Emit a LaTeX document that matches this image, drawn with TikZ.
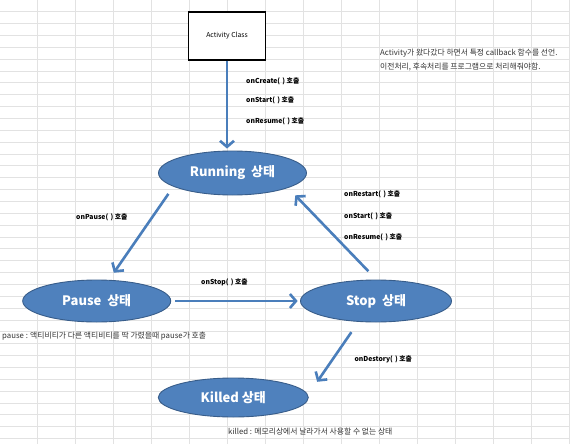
\documentclass[tikz,border=0pt]{standalone}
\usepackage{fontspec}
\setmainfont{Noto Sans CJK KR}
\usetikzlibrary{shapes.geometric,arrows.meta}
\definecolor{gridc}{HTML}{E2E2E2}
\definecolor{ellfill}{HTML}{4F81BD}
\definecolor{ellline}{HTML}{385D8A}
\definecolor{arrc}{HTML}{4A7EBB}
\tikzset{
  state/.style={ellipse, fill=ellfill, draw=ellline, line width=0.9pt, inner sep=0pt,
    text=white, font=\fontsize{13}{13}\selectfont\bfseries},
  classbox/.style={rectangle, draw=black, fill=white, line width=1.3pt, inner sep=0pt,
    minimum width=77pt, minimum height=48pt, font=\fontsize{6.8}{7}\selectfont},
  arr/.style={draw=arrc, line width=2.6pt, -{Straight Barb[length=6pt,width=14pt]}},
  lbl/.style={anchor=west, inner sep=0pt, font=\fontsize{6.8}{7}\selectfont\bfseries},
  note/.style={anchor=west, inner sep=0pt, font=\fontsize{7.8}{8}\selectfont, text=black!80},
}
\begin{document}
\begin{tikzpicture}[x=1pt,y=-1pt]
\useasboundingbox (0,0) rectangle (570,444);
\fill[white] (0,0) rectangle (570,444);
% spreadsheet grid
\foreach \i in {0,...,14} {
  \draw[gridc, line width=0.9pt] ({37.3+38*\i},0) -- ({37.3+38*\i},444);
}
\foreach \j in {0,...,36} {
  \draw[gridc, line width=0.9pt] (0,{11.7+11.86*\j}) -- (570,{11.7+11.86*\j});
}

% nodes
\node[classbox] (cls) at (227,36) {Activity Class};
\node[state, minimum width=148pt, minimum height=44pt] (run) at (232.5,173) {Running\hspace{0.45em}상태};
\node[state, minimum width=148pt, minimum height=42pt] (pause) at (96.7,301) {Pause\hspace{0.45em}상태};
\node[state, minimum width=151pt, minimum height=42pt] (stop) at (376,301) {Stop\hspace{0.45em}상태};
\node[state, minimum width=150pt, minimum height=39pt] (killed) at (233.3,397.5) {Killed 상태};

% connectors
\draw[arr, shorten >=2pt] (cls.south) -- (cls.south |- run.north);
\draw[arr, shorten <=8.8pt, shorten >=8.6pt] (run.193.5) -- (pause.60.7);
\draw[arr, shorten <=4pt, shorten >=2.4pt] (pause.east) -- (stop.west);
\draw[arr, shorten <=11.5pt, shorten >=10.3pt] (stop.89) -- (run.345.2);
\draw[arr, shorten <=12.5pt, shorten >=15.9pt] (stop.230.1) -- (killed.2.2);

% labels
\node[lbl] (l1) at (246,81) {onCreate(\,\,) 호출};
\node[lbl] (l2) at (246,100.5) {onStart(\,\,) 호출};
\node[lbl] (l3) at (246,121) {onResume(\,\,) 호출};
\node[lbl] (l4) at (76,217) {onPause(\,\,) 호출};
\node[lbl] (l5) at (201,282) {onStop(\,\,) 호출};
\node[lbl] (l6) at (344,194) {onRestart(\,\,) 호출};
\node[lbl] (l7) at (344,216) {onStart(\,\,) 호출};
\node[lbl] (l8) at (344,237) {onResume(\,\,) 호출};
\node[lbl] (l9) at (354.3,359.3) {onDestory(\,\,) 호출};

% notes
\node[note] (n1) at (380,53.3) {Activity가 왔다갔다 하면서 특정 callback 함수를 선언.};
\node[note] (n2) at (380,66.7) {이전처리, 후속처리를 프로그램으로 처리해줘야함.};
\node[note] (n3) at (2,336) {pause : 액티비티가 다른 액티비티를 딱 가렸을때 pause가 호출};
\node[note] (n4) at (228,431.5) {killed : 메모리상에서 날라가서 사용할 수 없는 상태};
\end{tikzpicture}
\end{document}
